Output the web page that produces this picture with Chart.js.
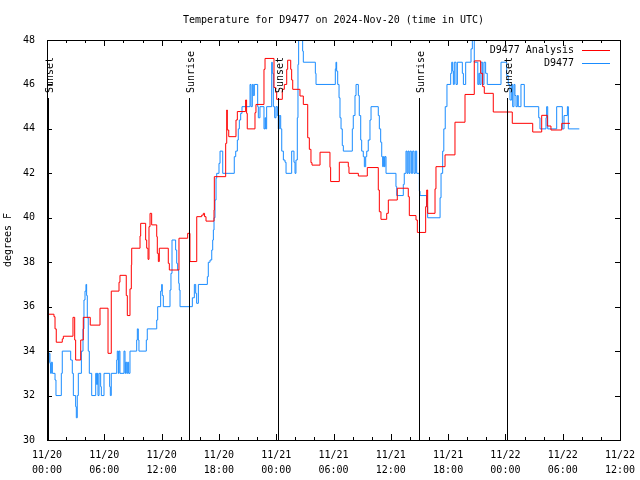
<!DOCTYPE html>
<html>
<head>
<meta charset="utf-8">
<script src="https://cdn.jsdelivr.net/npm/chart.js@4"></script>
<style>
  body { margin: 0; background: #fff; }
  #wrap { width: 640px; height: 480px; }
</style>
</head>
<body>
<div id="wrap"><canvas id="tempChart" width="640" height="480"></canvas></div>
<script>
// hours since 2024-11-20 00:00 UTC
const analysisHours = [0.0, 0.73, 0.84, 0.97, 1.6, 1.71, 2.72, 2.9, 3.0, 3.53, 3.8, 4.53, 5.55, 6.39, 6.73, 7.54, 7.64, 8.3, 8.41, 8.69, 8.83, 8.87, 9.74, 9.81, 10.33, 10.44, 10.58, 10.68, 10.79, 10.96, 11.49, 11.55, 11.66, 11.76, 12.7, 12.81, 13.82, 14.73, 14.97, 15.68, 16.2, 16.37, 16.5, 16.65, 17.49, 17.52, 18.71, 18.82, 18.88, 19.03, 19.79, 19.93, 20.8, 20.9, 20.97, 21.78, 21.88, 22.72, 22.83, 23.77, 23.95, 24.05, 24.64, 24.85, 25.1, 25.2, 25.52, 25.62, 25.73, 26.49, 26.84, 27.3, 27.47, 27.64, 27.75, 28.59, 29.63, 29.7, 30.61, 31.55, 31.62, 32.6, 33.54, 34.69, 34.8, 34.97, 35.57, 35.74, 36.68, 37.83, 37.94, 38.64, 38.78, 39.65, 39.76, 39.86, 40.63, 40.73, 41.68, 42.72, 43.77, 44.74, 45.41, 45.62, 45.79, 46.73, 48.72, 50.86, 51.8, 52.39, 52.77, 53.9, 54.76];
const analysisTemps = [35.66, 35.55, 35.0, 34.4, 34.55, 34.67, 35.52, 34.5, 33.6, 34.5, 35.52, 35.17, 35.93, 33.9, 36.7, 37.1, 37.41, 36.5, 35.6, 36.8, 37.88, 38.63, 39.18, 39.75, 39.0, 38.63, 38.13, 39.6, 40.2, 39.68, 39.15, 38.4, 38.03, 38.63, 37.95, 37.65, 39.08, 39.3, 38.03, 40.05, 40.12, 40.2, 40.05, 39.85, 40.35, 41.85, 43.35, 44.85, 43.95, 43.65, 44.4, 44.78, 45.3, 44.7, 44.0, 44.73, 45.1, 46.68, 47.17, 45.86, 45.64, 45.33, 45.78, 46.0, 46.68, 47.09, 46.68, 46.2, 45.78, 45.48, 45.1, 43.6, 43.08, 42.48, 42.37, 42.95, 42.27, 41.63, 42.5, 42.3, 42.0, 41.88, 42.26, 41.25, 40.27, 39.93, 40.2, 40.8, 41.33, 40.95, 40.1, 39.9, 39.34, 40.5, 41.25, 40.2, 41.3, 42.3, 42.83, 44.3, 45.55, 47.06, 46.5, 45.9, 45.6, 44.76, 44.25, 43.86, 44.61, 44.13, 43.95, 44.25, 44.25];

const obsHours = [0.0, 0.1, 0.21, 0.31, 0.38, 0.45, 0.56, 0.84, 0.94, 1.5, 1.6, 2.48, 2.65, 2.76, 3.0, 3.07, 3.17, 3.28, 3.6, 3.77, 3.87, 3.98, 4.08, 4.15, 4.22, 4.32, 4.43, 4.68, 5.1, 5.2, 5.27, 5.34, 5.45, 5.62, 5.69, 5.97, 6.56, 6.63, 6.73, 7.3, 7.36, 7.47, 7.54, 7.64, 8.06, 8.17, 8.24, 8.35, 8.45, 8.55, 8.69, 9.39, 9.46, 9.56, 9.63, 10.4, 10.5, 11.49, 11.59, 11.9, 12.01, 12.07, 12.18, 12.88, 12.98, 13.09, 13.47, 13.58, 13.68, 13.79, 13.85, 13.93, 15.22, 15.43, 15.57, 15.67, 15.85, 16.79, 16.89, 17.07, 17.25, 17.35, 17.42, 17.49, 17.59, 17.7, 17.77, 18.01, 18.12, 18.4, 19.61, 19.76, 19.93, 20.03, 20.14, 20.28, 20.42, 21.26, 21.36, 21.5, 21.6, 21.71, 22.06, 22.13, 22.3, 22.72, 22.83, 22.9, 23.0, 23.53, 23.59, 23.7, 23.84, 23.98, 24.12, 24.22, 24.32, 24.47, 24.58, 24.75, 24.92, 25.03, 25.62, 25.86, 25.97, 26.07, 26.21, 26.28, 26.35, 26.77, 26.84, 28.1, 28.17, 30.19, 30.26, 30.33, 30.44, 30.58, 30.68, 30.79, 30.92, 31.03, 31.97, 32.07, 32.25, 32.36, 32.6, 32.7, 32.85, 32.95, 33.12, 33.23, 33.37, 33.48, 33.64, 33.82, 33.93, 34.69, 34.8, 34.94, 35.05, 35.15, 35.22, 35.32, 35.39, 35.5, 36.54, 36.62, 37.31, 37.41, 37.59, 37.7, 37.8, 37.91, 38.01, 38.15, 38.29, 38.43, 38.57, 38.71, 38.99, 39.06, 39.76, 39.86, 41.16, 41.26, 41.43, 41.55, 41.7, 41.88, 42.27, 42.38, 42.48, 42.55, 42.65, 42.83, 42.97, 43.49, 43.6, 43.84, 44.4, 44.54, 44.74, 45.11, 45.22, 45.32, 45.45, 45.62, 45.76, 45.93, 46.1, 47.54, 48.13, 48.3, 48.48, 48.66, 48.76, 48.9, 49.0, 49.11, 49.25, 49.35, 49.63, 49.98, 51.49, 51.62, 52.25, 52.32, 52.43, 53.37, 53.96, 54.14, 54.49, 54.59, 55.74];
const obsTemps = [34.7, 33.5, 33.9, 33.45, 33.0, 33.5, 33.0, 32.7, 32.0, 33.0, 34.0, 33.6, 33.0, 32.0, 31.5, 31.0, 32.0, 33.0, 34.0, 35.0, 36.3, 36.7, 37.0, 36.5, 35.5, 34.0, 33.0, 32.0, 33.0, 32.5, 33.0, 32.0, 33.0, 32.4, 32.0, 33.0, 32.4, 32.0, 33.0, 33.6, 34.0, 33.0, 34.0, 33.0, 34.0, 33.0, 33.5, 33.0, 33.5, 33.0, 34.0, 34.5, 35.0, 34.5, 34.0, 34.5, 35.0, 35.4, 36.0, 36.7, 37.0, 36.5, 36.0, 36.75, 37.5, 39.0, 38.55, 37.95, 37.65, 37.05, 36.75, 36.0, 36.4, 37.0, 36.6, 36.15, 37.0, 37.35, 38.0, 38.1, 38.55, 39.0, 39.45, 40.0, 40.8, 41.78, 42.0, 42.45, 43.0, 42.0, 42.75, 43.0, 43.5, 44.0, 44.4, 44.7, 45.0, 46.0, 45.0, 46.0, 45.5, 46.0, 45.0, 44.5, 45.0, 44.0, 44.5, 44.0, 45.0, 47.0, 46.5, 45.0, 44.5, 45.0, 44.6, 44.0, 44.6, 44.0, 43.0, 42.6, 42.5, 42.0, 43.0, 42.5, 42.0, 42.6, 44.5, 46.9, 48.0, 47.5, 47.0, 46.5, 46.0, 46.7, 47.0, 46.6, 46.0, 45.4, 44.5, 44.0, 43.25, 43.0, 44.0, 44.6, 45.5, 46.0, 45.5, 44.6, 43.5, 43.0, 42.75, 42.3, 42.75, 43.0, 43.5, 44.4, 45.0, 44.6, 44.0, 43.4, 42.75, 42.3, 42.75, 42.3, 42.75, 42.0, 41.4, 41.0, 41.5, 42.0, 43.0, 42.0, 43.0, 42.0, 43.0, 42.0, 43.0, 42.0, 43.0, 42.0, 41.2, 41.0, 40.5, 40.0, 40.9, 42.0, 43.0, 44.0, 45.0, 46.0, 46.5, 47.0, 46.6, 46.0, 47.0, 46.0, 47.0, 46.5, 46.0, 47.0, 47.6, 48.0, 47.0, 46.0, 46.5, 46.0, 47.0, 46.0, 47.0, 46.5, 46.0, 47.0, 46.4, 46.0, 45.3, 46.0, 45.0, 46.0, 45.5, 45.0, 45.5, 45.0, 46.0, 45.0, 44.5, 44.0, 44.5, 45.0, 44.0, 45.0, 44.0, 44.6, 45.0, 44.0, 44.0];

const eventHours = [0.13, 14.9, 24.22, 38.95, 48.2];
const eventLabels = ['Sunset', 'Sunrise', 'Sunset', 'Sunrise', 'Sunset'];

const seriesNames = ['D9477 Analysis', 'D9477'];
const seriesColors = ['#ff0000', '#1a8cff'];

const MONO = '"DejaVu Sans Mono", "Liberation Mono", monospace';

function toPoints(xs, ys) {
    return xs.map((x, i) => ({ x: x, y: ys[i] }));
}

const gnuplotFrame = {
    id: 'gnuplotFrame',
    afterDatasetsDraw(chart) {
        const ctx = chart.ctx;
        const a = chart.chartArea;
        const xs = chart.scales.x;
        const ys = chart.scales.y;
        ctx.save();
        ctx.strokeStyle = '#000';
        ctx.fillStyle = '#000';
        ctx.lineWidth = 1;

        // sunrise / sunset markers
        ctx.font = '10px ' + MONO;
        eventHours.forEach((h, i) => {
            const px = Math.round(xs.getPixelForValue(h)) + 0.5;
            ctx.beginPath();
            ctx.moveTo(px, 98);
            ctx.lineTo(px, a.bottom);
            ctx.stroke();
            ctx.save();
            ctx.translate(px + 4.5, 93);
            ctx.rotate(-Math.PI / 2);
            ctx.textAlign = 'left';
            ctx.textBaseline = 'alphabetic';
            ctx.fillText(eventLabels[i], 0, 0);
            ctx.restore();
        });

        // border box
        ctx.strokeRect(Math.round(a.left) + 0.5, Math.round(a.top) + 0.5,
            Math.round(a.right - a.left), Math.round(a.bottom - a.top));

        // inward ticks, mirrored on all sides
        ctx.beginPath();
        for (let h = 0; h <= 60; h += 2) {
            const px = Math.round(xs.getPixelForValue(h)) + 0.5;
            const len = h % 6 === 0 ? 6 : 3;
            ctx.moveTo(px, a.bottom);
            ctx.lineTo(px, a.bottom - len);
            ctx.moveTo(px, a.top);
            ctx.lineTo(px, a.top + len);
        }
        for (let v = 30; v <= 48; v += 2) {
            const py = Math.round(ys.getPixelForValue(v)) + 0.5;
            ctx.moveTo(a.left, py);
            ctx.lineTo(a.left + 5, py);
            ctx.moveTo(a.right, py);
            ctx.lineTo(a.right - 5, py);
        }
        ctx.stroke();

        // title
        ctx.font = '10px ' + MONO;
        ctx.textAlign = 'center';
        ctx.textBaseline = 'middle';
        ctx.fillText('Temperature for D9477 on 2024-Nov-20 (time in UTC)', (a.left + a.right) / 2, 20);

        // key
        ctx.textAlign = 'right';
        seriesNames.forEach((name, i) => {
            const y = 50 + i * 13;
            ctx.fillStyle = '#000';
            ctx.fillText(name, 574, y);
            ctx.strokeStyle = seriesColors[i];
            ctx.beginPath();
            ctx.moveTo(582, Math.round(y) + 0.5);
            ctx.lineTo(610, Math.round(y) + 0.5);
            ctx.stroke();
        });
        ctx.restore();
    }
};

const ctxTemp = document.getElementById('tempChart').getContext('2d');
const tempChart = new Chart(ctxTemp, {
    type: 'scatter',
    data: {
        datasets: [{
            label: seriesNames[0],
            data: toPoints(analysisHours, analysisTemps),
            borderColor: seriesColors[0],
            borderWidth: 1,
            showLine: true,
            stepped: true,
            pointRadius: 0
        }, {
            label: seriesNames[1],
            data: toPoints(obsHours, obsTemps),
            borderColor: seriesColors[1],
            borderWidth: 1,
            showLine: true,
            stepped: true,
            pointRadius: 0
        }]
    },
    options: {
        responsive: false,
        animation: false,
        layout: { padding: { top: 40, right: 20, left: 0, bottom: 0 } },
        plugins: {
            legend: { display: false },
            tooltip: { enabled: false }
        },
        scales: {
            x: {
                type: 'linear',
                min: 0,
                max: 60,
                grid: { display: false, drawTicks: false },
                border: { display: false },
                afterFit(scale) {
                    scale.height = 40;
                    scale.paddingLeft = 0;
                    scale.paddingRight = 0;
                },
                ticks: {
                    stepSize: 6,
                    maxRotation: 0,
                    autoSkip: false,
                    padding: 8,
                    color: '#000',
                    font: { family: MONO, size: 10, lineHeight: 1.5 },
                    callback(value) {
                        const day = 20 + Math.floor(value / 24);
                        const hr = value % 24;
                        return ['11/' + day, String(hr).padStart(2, '0') + ':00'];
                    }
                }
            },
            y: {
                min: 30,
                max: 48,
                grid: { display: false, drawTicks: false },
                border: { display: false },
                afterFit(scale) { scale.width = 47; },
                title: {
                    display: true,
                    text: 'degrees F',
                    color: '#000',
                    font: { family: MONO, size: 10 },
                    padding: { top: 2, bottom: 0 }
                },
                ticks: {
                    stepSize: 2,
                    padding: 12,
                    color: '#000',
                    font: { family: MONO, size: 10 }
                }
            }
        }
    },
    plugins: [gnuplotFrame]
});
</script>
</body>
</html>
